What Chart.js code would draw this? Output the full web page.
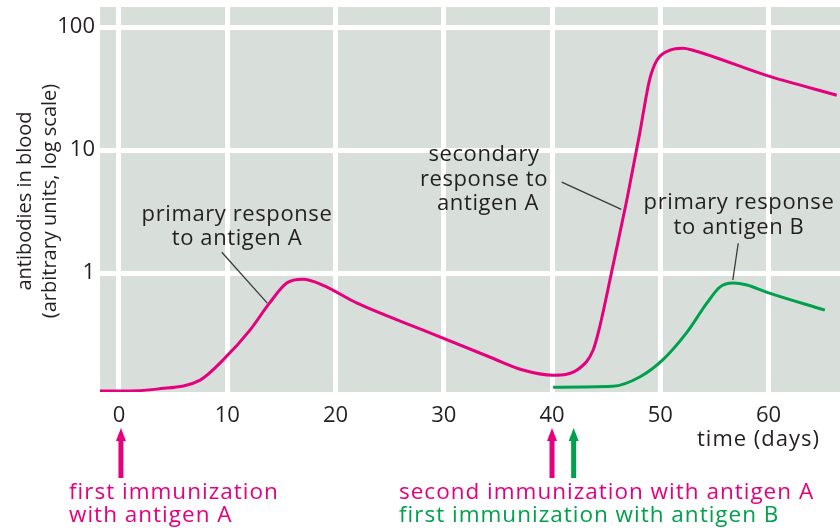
<!DOCTYPE html>
<html>
<head>
<meta charset="utf-8">
<script src="https://cdn.jsdelivr.net/npm/chart.js@4/dist/chart.umd.min.js"></script>
<style>
  html, body { margin: 0; padding: 0; background: #ffffff; }
  #wrap { width: 840px; height: 528px; position: relative; }
</style>
</head>
<body>
<div id="wrap"><canvas id="antibodyChart"></canvas></div>
<script>
// ---- data ----
const pinkDays   = [-1.75, 0, 3.5, 7.5, 9.6, 12.1, 13.9, 15.5, 17, 18.8, 22, 28.1, 34.3, 37.3, 40.1, 42.6, 43.8, 44.4, 45.6, 46.9, 48.1, 49, 49.7, 50.9, 52.1, 53, 59.8, 66.3];
const pinkValues = [0.11, 0.11, 0.114, 0.135, 0.196, 0.344, 0.57, 0.83, 0.89, 0.8, 0.57, 0.344, 0.207, 0.163, 0.148, 0.17, 0.237, 0.364, 1.12, 3.9, 13.7, 37, 54, 65, 67.5, 65, 40.6, 28];

const greenDays   = [40.1, 45.6, 48.1, 50.2, 52.4, 54.3, 55.5, 56.7, 58, 59.8, 65.2];
const greenValues = [0.118, 0.12, 0.143, 0.196, 0.325, 0.57, 0.77, 0.83, 0.8, 0.7, 0.5];

const xTicks = [0, 10, 20, 30, 40, 50, 60];
const yTicks = [1, 10, 100];

// immunization days (arrows under the axis)
const immunizationDays   = [0, 40, 42];
const immunizationColors = ['pink', 'pink', 'green'];

const PINK = '#e5007d';
const GREEN = '#00a04c';
const TEXT = '#231f20';
const FONT = '"Open Sans", sans-serif';

function toPoints(days, values) {
  return days.map((d, i) => ({ x: d, y: values[i] }));
}

// grey panel behind the plot + all the extra labels
const decorations = {
  id: 'decorations',
  beforeDraw(chart) {
    const { ctx, chartArea: a } = chart;
    ctx.save();
    ctx.fillStyle = '#d8dfdb';
    ctx.fillRect(a.left, a.top, a.right - a.left, a.bottom - a.top);
    ctx.restore();
  },
  afterDraw(chart) {
    const { ctx, scales } = chart;
    const xs = scales.x, ys = scales.y;
    const px = v => xs.getPixelForValue(v);
    const py = v => ys.getPixelForValue(v);

    ctx.save();
    // y axis title (two rotated lines)
    ctx.fillStyle = TEXT;
    ctx.font = '20px ' + FONT;
    ctx.textAlign = 'center';
    ctx.textBaseline = 'middle';
    ctx.translate(37, 201);
    ctx.rotate(-Math.PI / 2);
    ctx.fillText('antibodies in blood', 0, -12);
    ctx.fillText('(arbitrary units, log scale)', 0, 13);
    ctx.restore();

    ctx.save();
    ctx.fillStyle = TEXT;
    ctx.textBaseline = 'middle';
    ctx.letterSpacing = '1px';
    ctx.font = '22px ' + FONT;
    ctx.textAlign = 'right';
    ctx.fillText('time (days)', 820, 440);

    // curve labels
    ctx.textAlign = 'center';
    ctx.letterSpacing = '0.6px';
    ctx.fillText('primary response', 237, 215);
    ctx.fillText('to antigen A', 237, 239);
    ctx.fillText('secondary', 484, 155);
    ctx.fillText('response to', 484, 180);
    ctx.fillText('antigen A', 488, 204);
    ctx.fillText('primary response', 739, 203);
    ctx.fillText('to antigen B', 739, 228);

    // leader lines
    ctx.strokeStyle = '#3a3a3a';
    ctx.lineWidth = 1.3;
    const leaders = [
      [9.5, 1.48, 13.7, 0.57],
      [40.9, 5.5, 46.4, 3.3],
      [57.2, 1.75, 56.7, 0.88]
    ];
    leaders.forEach(l => {
      ctx.beginPath();
      ctx.moveTo(px(l[0]), py(l[1]));
      ctx.lineTo(px(l[2]), py(l[3]));
      ctx.stroke();
    });

    // arrows for the immunizations
    immunizationDays.forEach((d, i) => {
      const c = immunizationColors[i] === 'pink' ? PINK : GREEN;
      const x = px(d) + (i === 0 ? 2 : 0);
      ctx.fillStyle = c;
      ctx.fillRect(x - 2.5, 438, 5, 40);
      ctx.beginPath();
      ctx.moveTo(x - 5, 441);
      ctx.lineTo(x + 5, 441);
      ctx.lineTo(x, 428);
      ctx.closePath();
      ctx.fill();
    });

    // bottom captions
    ctx.font = '22.5px ' + FONT;
    ctx.letterSpacing = '1px';
    ctx.textAlign = 'left';
    ctx.fillStyle = PINK;
    ctx.fillText('first immunization', 69, 493);
    ctx.fillText('with antigen A', 69, 516);
    ctx.fillText('second immunization with antigen A', 399, 493);
    ctx.fillStyle = GREEN;
    ctx.fillText('first immunization with antigen B', 399, 516);
    ctx.restore();
  }
};

new Chart(document.getElementById('antibodyChart'), {
  type: 'line',
  data: {
    datasets: [
      {
        label: 'antigen A',
        data: toPoints(pinkDays, pinkValues),
        borderColor: PINK,
        borderWidth: 3,
        pointRadius: 0,
        cubicInterpolationMode: 'monotone',
        fill: false
      },
      {
        label: 'antigen B',
        data: toPoints(greenDays, greenValues),
        borderColor: GREEN,
        borderWidth: 3,
        pointRadius: 0,
        cubicInterpolationMode: 'monotone',
        fill: false
      }
    ]
  },
  options: {
    responsive: true,
    maintainAspectRatio: false,
    animation: false,
    layout: { padding: { top: 7, left: 0, right: 0, bottom: 0 } },
    plugins: {
      legend: { display: false },
      tooltip: { enabled: false }
    },
    scales: {
      x: {
        type: 'linear',
        min: -1.75,
        max: 66.6,
        afterBuildTicks: s => { s.ticks = xTicks.map(v => ({ value: v })); },
        afterFit: s => {
          s.height = 136;
          s.paddingLeft = 0;
          s.paddingRight = 0;
        },
        grid: { color: '#ffffff', lineWidth: 5, drawTicks: false },
        border: { display: false },
        ticks: {
          color: TEXT,
          font: { family: FONT, size: 22 },
          padding: 11,
          maxRotation: 0,
          callback: v => String(v)
        }
      },
      y: {
        type: 'logarithmic',
        min: 0.108,
        max: 146,
        afterBuildTicks: s => { s.ticks = yTicks.map(v => ({ value: v })); },
        afterFit: s => {
          s.width = 100;
          // labels sit well inside the plot, no extra room needed
          s.paddingTop = 0;
          s.paddingBottom = 0;
        },
        grid: { color: '#ffffff', lineWidth: 5, drawTicks: false },
        border: { display: false },
        ticks: {
          color: TEXT,
          font: { family: FONT, size: 22 },
          padding: 5,
          callback: v => String(v)
        }
      }
    }
  },
  plugins: [decorations]
});
</script>
</body>
</html>
